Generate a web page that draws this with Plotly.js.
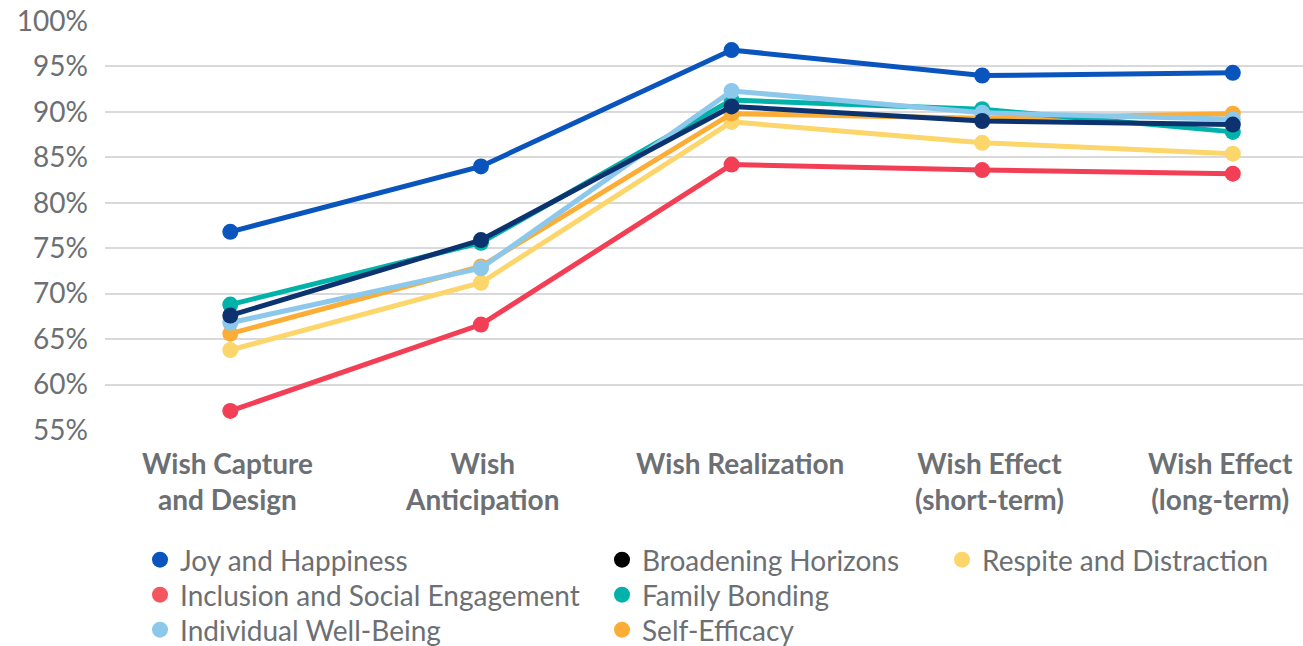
<!DOCTYPE html>
<html>
<head>
<meta charset="utf-8">
<script src="https://cdn.plot.ly/plotly-3.0.1.min.js"></script>
<style>html,body{margin:0;padding:0;background:#fff;}#chart{width:1303px;height:646px;}</style>
</head>
<body>
<div id="chart"></div>
<script>
const categories = ["Wish Capture<br>and Design", "Wish<br>Anticipation", "Wish Realization", "Wish Effect<br>(short-term)", "Wish Effect<br>(long-term)"];
const joyAndHappiness = [76.8, 84.0, 96.8, 94.0, 94.3];
const inclusionAndSocialEngagement = [57.1, 66.6, 84.2, 83.6, 83.2];
const individualWellBeing = [66.8, 72.8, 92.3, 89.9, 89.2];
const broadeningHorizons = [67.6, 75.9, 90.6, 89.0, 88.6];
const familyBonding = [68.8, 75.6, 91.3, 90.3, 87.8];
const selfEfficacy = [65.6, 73.0, 89.8, 89.3, 89.8];
const respiteAndDistraction = [63.8, 71.2, 88.9, 86.6, 85.4];

const names = ["Joy and Happiness", "Inclusion and Social Engagement", "Individual Well-Being",
               "Broadening Horizons", "Family Bonding", "Self-Efficacy", "Respite and Distraction"];
const lineColors = ["#0a55bd", "#f33f55", "#8cc8ec", "#0c3370", "#00b2a9", "#fbad36", "#fcd66b"];
const legendColors = ["#0a55bd", "#f5555f", "#8cc8ec", "#000000", "#00b2a9", "#fbad36", "#fcd66b"];
const series = [joyAndHappiness, inclusionAndSocialEngagement, individualWellBeing,
                broadeningHorizons, familyBonding, selfEfficacy, respiteAndDistraction];
const drawOrder = [6, 5, 4, 2, 3, 1, 0];
// style / layout constants
const labelShift = [-3, 1, 8, 7, -12];
const legendCol = [0, 0, 0, 1, 1, 1, 2];
const legendRow = [0, 1, 2, 0, 1, 2, 0];
const colX = [140, 602, 942];
const rowTop = [535, 570, 605];

const traces = [];
drawOrder.forEach(i => {
  traces.push({
    type: "scatter", mode: "lines+markers", x: categories, y: series[i], name: names[i],
    line: {color: lineColors[i], width: 5}, marker: {color: lineColors[i], size: 16},
    showlegend: false, hoverinfo: "skip"
  });
});
names.forEach((n, i) => {
  traces.push({
    type: "scatter", mode: "markers", x: [categories[0]], y: [null], name: n,
    marker: {color: legendColors[i], size: 20}, showlegend: true,
    legend: i === 0 ? "legend" : "legend" + (i + 1)
  });
});

const textColor = "#6c6f73";
const layout = {
  width: 1303, height: 646,
  margin: {l: 105, r: 0, t: 21, b: 216, autoexpand: false},
  paper_bgcolor: "#ffffff", plot_bgcolor: "#ffffff",
  font: {family: "Lato, 'Open Sans', sans-serif", color: textColor},
  xaxis: {
    type: "category", range: [-0.5, 4.28], showgrid: false, zeroline: false, showline: false,
    showticklabels: false, ticks: "", automargin: false, fixedrange: true
  },
  yaxis: {
    range: [55, 100], dtick: 5, tick0: 55, ticksuffix: "%", showgrid: true, automargin: false,
    gridcolor: "#d9d9d9", gridwidth: 2, zeroline: false, showline: false, ticks: "",
    tickfont: {size: 28, color: textColor}, ticklabelstandoff: 16, fixedrange: true
  },
  annotations: categories.map((c, k) => ({
    x: c, xref: "x", y: 0, yref: "paper", xanchor: "center", yanchor: "top",
    yshift: -14, xshift: labelShift[k], showarrow: false, text: c, align: "center",
    font: {family: "Lato, 'Open Sans', sans-serif", size: 28, color: textColor, weight: "bold"}
  })),
  showlegend: true
};
names.forEach((n, i) => {
  const key = i === 0 ? "legend" : "legend" + (i + 1);
  layout[key] = {
    xref: "container", yref: "container", yanchor: "top", xanchor: "left",
    x: colX[legendCol[i]] / 1303, y: 1 - rowTop[legendRow[i]] / 646,
    orientation: "v", bgcolor: "rgba(0,0,0,0)", borderwidth: 0,
    font: {family: "Lato, 'Open Sans', sans-serif", size: 28, color: textColor},
    itemclick: false
  };
});

Plotly.newPlot("chart", traces, layout, {displayModeBar: false, staticPlot: true});
</script>
</body>
</html>
